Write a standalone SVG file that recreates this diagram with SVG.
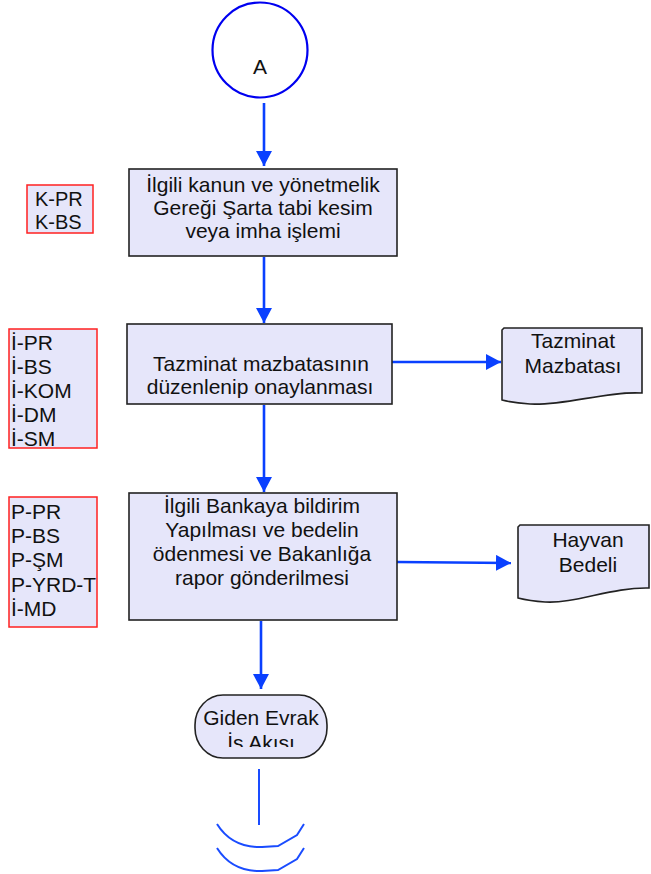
<svg xmlns="http://www.w3.org/2000/svg" width="651" height="874" viewBox="0 0 651 874">
<style>
text{font-family:"Liberation Sans",Arial,sans-serif;font-size:21px;fill:#111}
.c{text-anchor:middle}
.k{font-size:20px}
.box{fill:#E6E6FA;stroke:#222;stroke-width:1.6}
.side{fill:#E6E6FA;stroke:#FF2020;stroke-width:1.5}
.conn{stroke:#0A40FF;stroke-width:2.6;fill:none}
.thin{stroke:#1A4CFF;stroke-width:2;fill:none}
</style>
<defs>
<marker id="ah" markerWidth="16" markerHeight="16" refX="15" refY="8" orient="auto" markerUnits="userSpaceOnUse">
<path d="M0,0 L15,8 L0,16 Z" fill="#0A40FF"/>
</marker>
<clipPath id="tclip"><rect x="195" y="695" width="132" height="52"/></clipPath>
</defs>

<g id="connectors">
<line class="conn" x1="264" y1="103" x2="264" y2="166" marker-end="url(#ah)"/>
<line class="conn" x1="264" y1="257" x2="264" y2="323" marker-end="url(#ah)"/>
<line class="conn" x1="264" y1="405" x2="264" y2="492" marker-end="url(#ah)"/>
<line class="conn" x1="261" y1="621" x2="261" y2="689" marker-end="url(#ah)"/>
<line class="conn" x1="392" y1="362" x2="501" y2="362" marker-end="url(#ah)"/>
<line class="conn" x1="397" y1="562" x2="511" y2="563" marker-end="url(#ah)"/>
<line class="thin" x1="259" y1="769" x2="259" y2="825"/>
<path class="thin" d="M217,824 Q232,848 262,847 L278,846 L297,835 L304,824"/>
<path class="thin" d="M217,848 Q232,872 262,871 L278,870 L297,859 L304,848"/>
</g>

<g id="nodeA">
<circle cx="260" cy="50" r="47.5" fill="#fff" stroke="#0000F0" stroke-width="2.2"/>
<text class="c" x="260" y="74">A</text>
</g>

<g id="step1">
<rect class="box" x="129" y="169" width="268" height="87"/>
<text class="c" x="263" y="192">İlgili kanun ve yönetmelik</text>
<text class="c" x="263" y="215">Gereği Şarta tabi kesim</text>
<text class="c" x="263" y="238">veya imha işlemi</text>
</g>

<g id="step2">
<rect class="box" x="127" y="324" width="265" height="80"/>
<text class="c" x="261" y="371">Tazminat mazbatasının</text>
<text class="c" x="260" y="394">düzenlenip onaylanması</text>
</g>

<g id="step3">
<rect class="box" x="129" y="493" width="268" height="127"/>
<text class="c" x="262" y="513">İlgili Bankaya bildirim</text>
<text class="c" x="262" y="537">Yapılması ve bedelin</text>
<text class="c" x="262" y="561">ödenmesi ve Bakanlığa</text>
<text class="c" x="262" y="585">rapor gönderilmesi</text>
</g>

<g id="terminator">
<rect class="box" x="195" y="695" width="132" height="63" rx="28" ry="30"/>
<text class="c" x="261" y="725">Giden Evrak</text>
<text class="c" x="261" y="750" clip-path="url(#tclip)">İs Akısı</text>
</g>

<g id="docTazminat">
<path class="box" d="M502,330 L504,328 L642,328 L642,393 C605,391 565,406 530,404 C515,403 506,401 502,400 Z"/>
<text class="c" x="573" y="348">Tazminat</text>
<text class="c" x="573" y="373">Mazbatası</text>
</g>

<g id="docHayvan">
<path class="box" d="M518,527 L520,525 L649,525 L649,588 C612,587 575,604 545,602 C530,601 522,599 518,598 Z"/>
<text class="c" x="588" y="547">Hayvan</text>
<text class="c" x="588" y="572">Bedeli</text>
</g>

<g id="roleK">
<rect class="side" x="27" y="185" width="66" height="48"/>
<text class="k" x="35" y="206">K-PR</text>
<text class="k" x="35" y="229">K-BS</text>
</g>

<g id="roleI">
<rect class="side" x="9" y="329" width="88" height="119"/>
<text x="11" y="350">İ-PR</text>
<text x="11" y="374">İ-BS</text>
<text x="11" y="398">İ-KOM</text>
<text x="11" y="422">İ-DM</text>
<text x="11" y="446">İ-SM</text>
</g>

<g id="roleP">
<rect class="side" x="9" y="497" width="88" height="130"/>
<text x="11" y="519">P-PR</text>
<text x="11" y="543">P-BS</text>
<text x="11" y="567">P-ŞM</text>
<text x="11" y="592">P-YRD-T</text>
<text x="11" y="616">İ-MD</text>
</g>
</svg>
